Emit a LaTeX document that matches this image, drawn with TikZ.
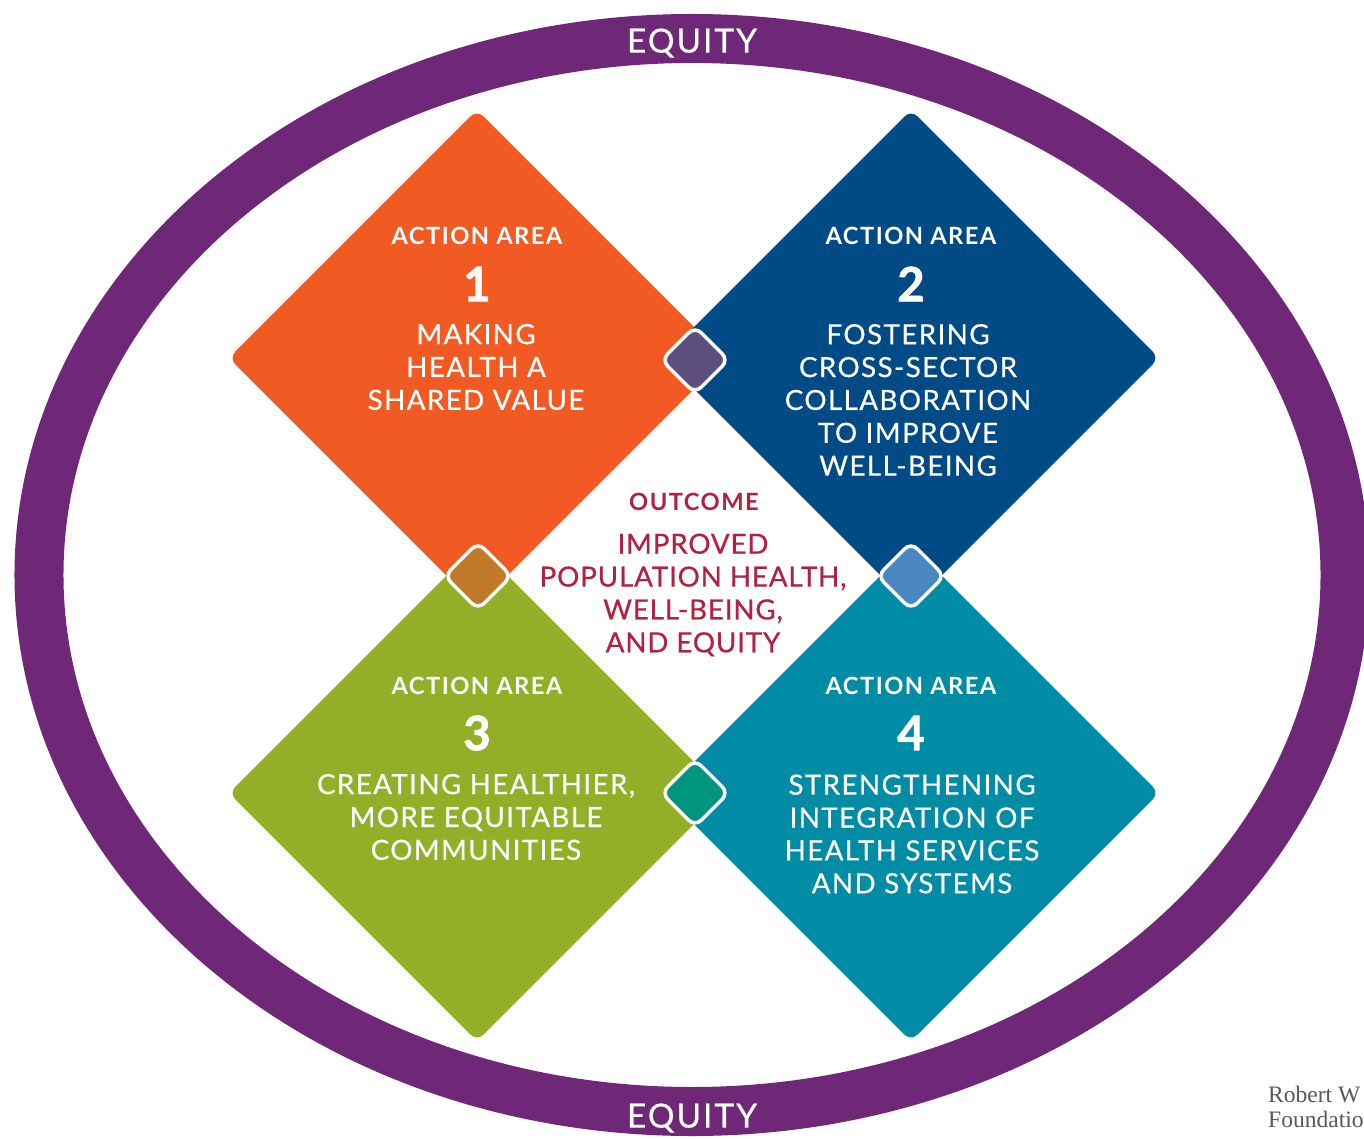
\documentclass[tikz,border=0pt]{standalone}
\usepackage{fontspec}
\setmainfont{Lato}
\newfontfamily\seriffont{Liberation Serif}
\usetikzlibrary{shapes.geometric}

\definecolor{ringpurple}{HTML}{6F2778}
\definecolor{areaone}{HTML}{F15A22}
\definecolor{areatwo}{HTML}{004B85}
\definecolor{areathree}{HTML}{94AE27}
\definecolor{areafour}{HTML}{008CA5}
\definecolor{lensone}{HTML}{5D4F80}
\definecolor{lenstwo}{HTML}{C07A28}
\definecolor{lensthree}{HTML}{4A86C0}
\definecolor{lensfour}{HTML}{00957F}
\definecolor{outcomered}{HTML}{B2213F}

\tikzset{
  area/.style={diamond, aspect=1, inner sep=0, outer sep=0, minimum width=9.92cm, minimum height=9.92cm, rounded corners=5pt},
  lens/.style={diamond, aspect=1, inner sep=0, outer sep=0, minimum width=1.34cm, minimum height=1.34cm, draw=white, line width=2pt, rounded corners=5pt},
  tiny/.style={text=white, font=\fontsize{13.5}{16}\selectfont\bfseries\addfontfeature{LetterSpace=6}},
  digit/.style={text=white, font=\fontsize{27}{30}\selectfont\bfseries\addfontfeature{FakeBold=1.5}},
  title/.style={text=white, align=center, font=\fontsize{15.8}{18.7}\selectfont\addfontfeature{LetterSpace=5,FakeBold=0.5}},
  red/.style={text=outcomered, align=center, font=\fontsize{15.8}{18.7}\selectfont\addfontfeature{LetterSpace=3,FakeBold=0.5}},
  equity/.style={text=white, font=\fontsize{19}{22}\selectfont\addfontfeature{LetterSpace=6,FakeBold=0.5}}
}

\begin{document}
\begin{tikzpicture}[x=0.2mm, y=-0.2mm]

   \useasboundingbox [fill=white] (0,0) rectangle (1364,1139);

   \node [ellipse, draw=ringpurple, line width=0.98cm, inner sep=0, outer sep=0,
          minimum width=26.12cm, minimum height=21.46cm] (ring) at (692,575) {};

   \foreach \n/\x/\y/\c in {1/477/358/areaone, 2/911/358/areatwo, 3/477/793/areathree, 4/911/793/areafour}
     \node [area, fill=\c] (a\n) at (\x,\y) {};

   \foreach \n/\x/\y/\c in {1/695/360/lensone, 2/478/576/lenstwo, 3/911/576/lensthree, 4/695/793/lensfour}
     \node [lens, fill=\c] (l\n) at (\x,\y) {};

   \foreach \n/\x/\y in {1/477/236, 2/911/236, 3/477/686, 4/911/686}
     \node [tiny] (h\n) at (\x,\y) {ACTION AREA};

   \foreach \n/\x/\y in {1/477/284, 2/911/284, 3/477/733, 4/911/733}
     \node [digit] (d\n) at (\x,\y) {\n};

   \node [title] (t1) at (476,367) {MAKING\\HEALTH A\\SHARED VALUE};
   \node [title] (t2) at (908,400) {FOSTERING\\CROSS-SECTOR\\COLLABORATION\\TO IMPROVE\\WELL-BEING};
   \node [title] (t3) at (476,817) {CREATING HEALTHIER,\\MORE EQUITABLE\\COMMUNITIES};
   \node [title] (t4) at (912,834) {STRENGTHENING\\INTEGRATION OF\\HEALTH SERVICES\\AND SYSTEMS};

   \node [tiny, text=outcomered] (oh) at (694,502) {OUTCOME};
   \node [red] (ot) at (693,595) {IMPROVED\\POPULATION HEALTH,\\WELL-BEING,\\AND EQUITY};

   \node [equity] (etop) at (692,43) {EQUITY};
   \node [equity] (ebot) at (692,1118) {EQUITY};

   \node [anchor=east, align=left, text=black!65, inner sep=0,
          font=\fontsize{13.4}{14.5}\selectfont\seriffont] (rw) at (1364,1107) {Robert W\\Foundatio};

\end{tikzpicture}
\end{document}
